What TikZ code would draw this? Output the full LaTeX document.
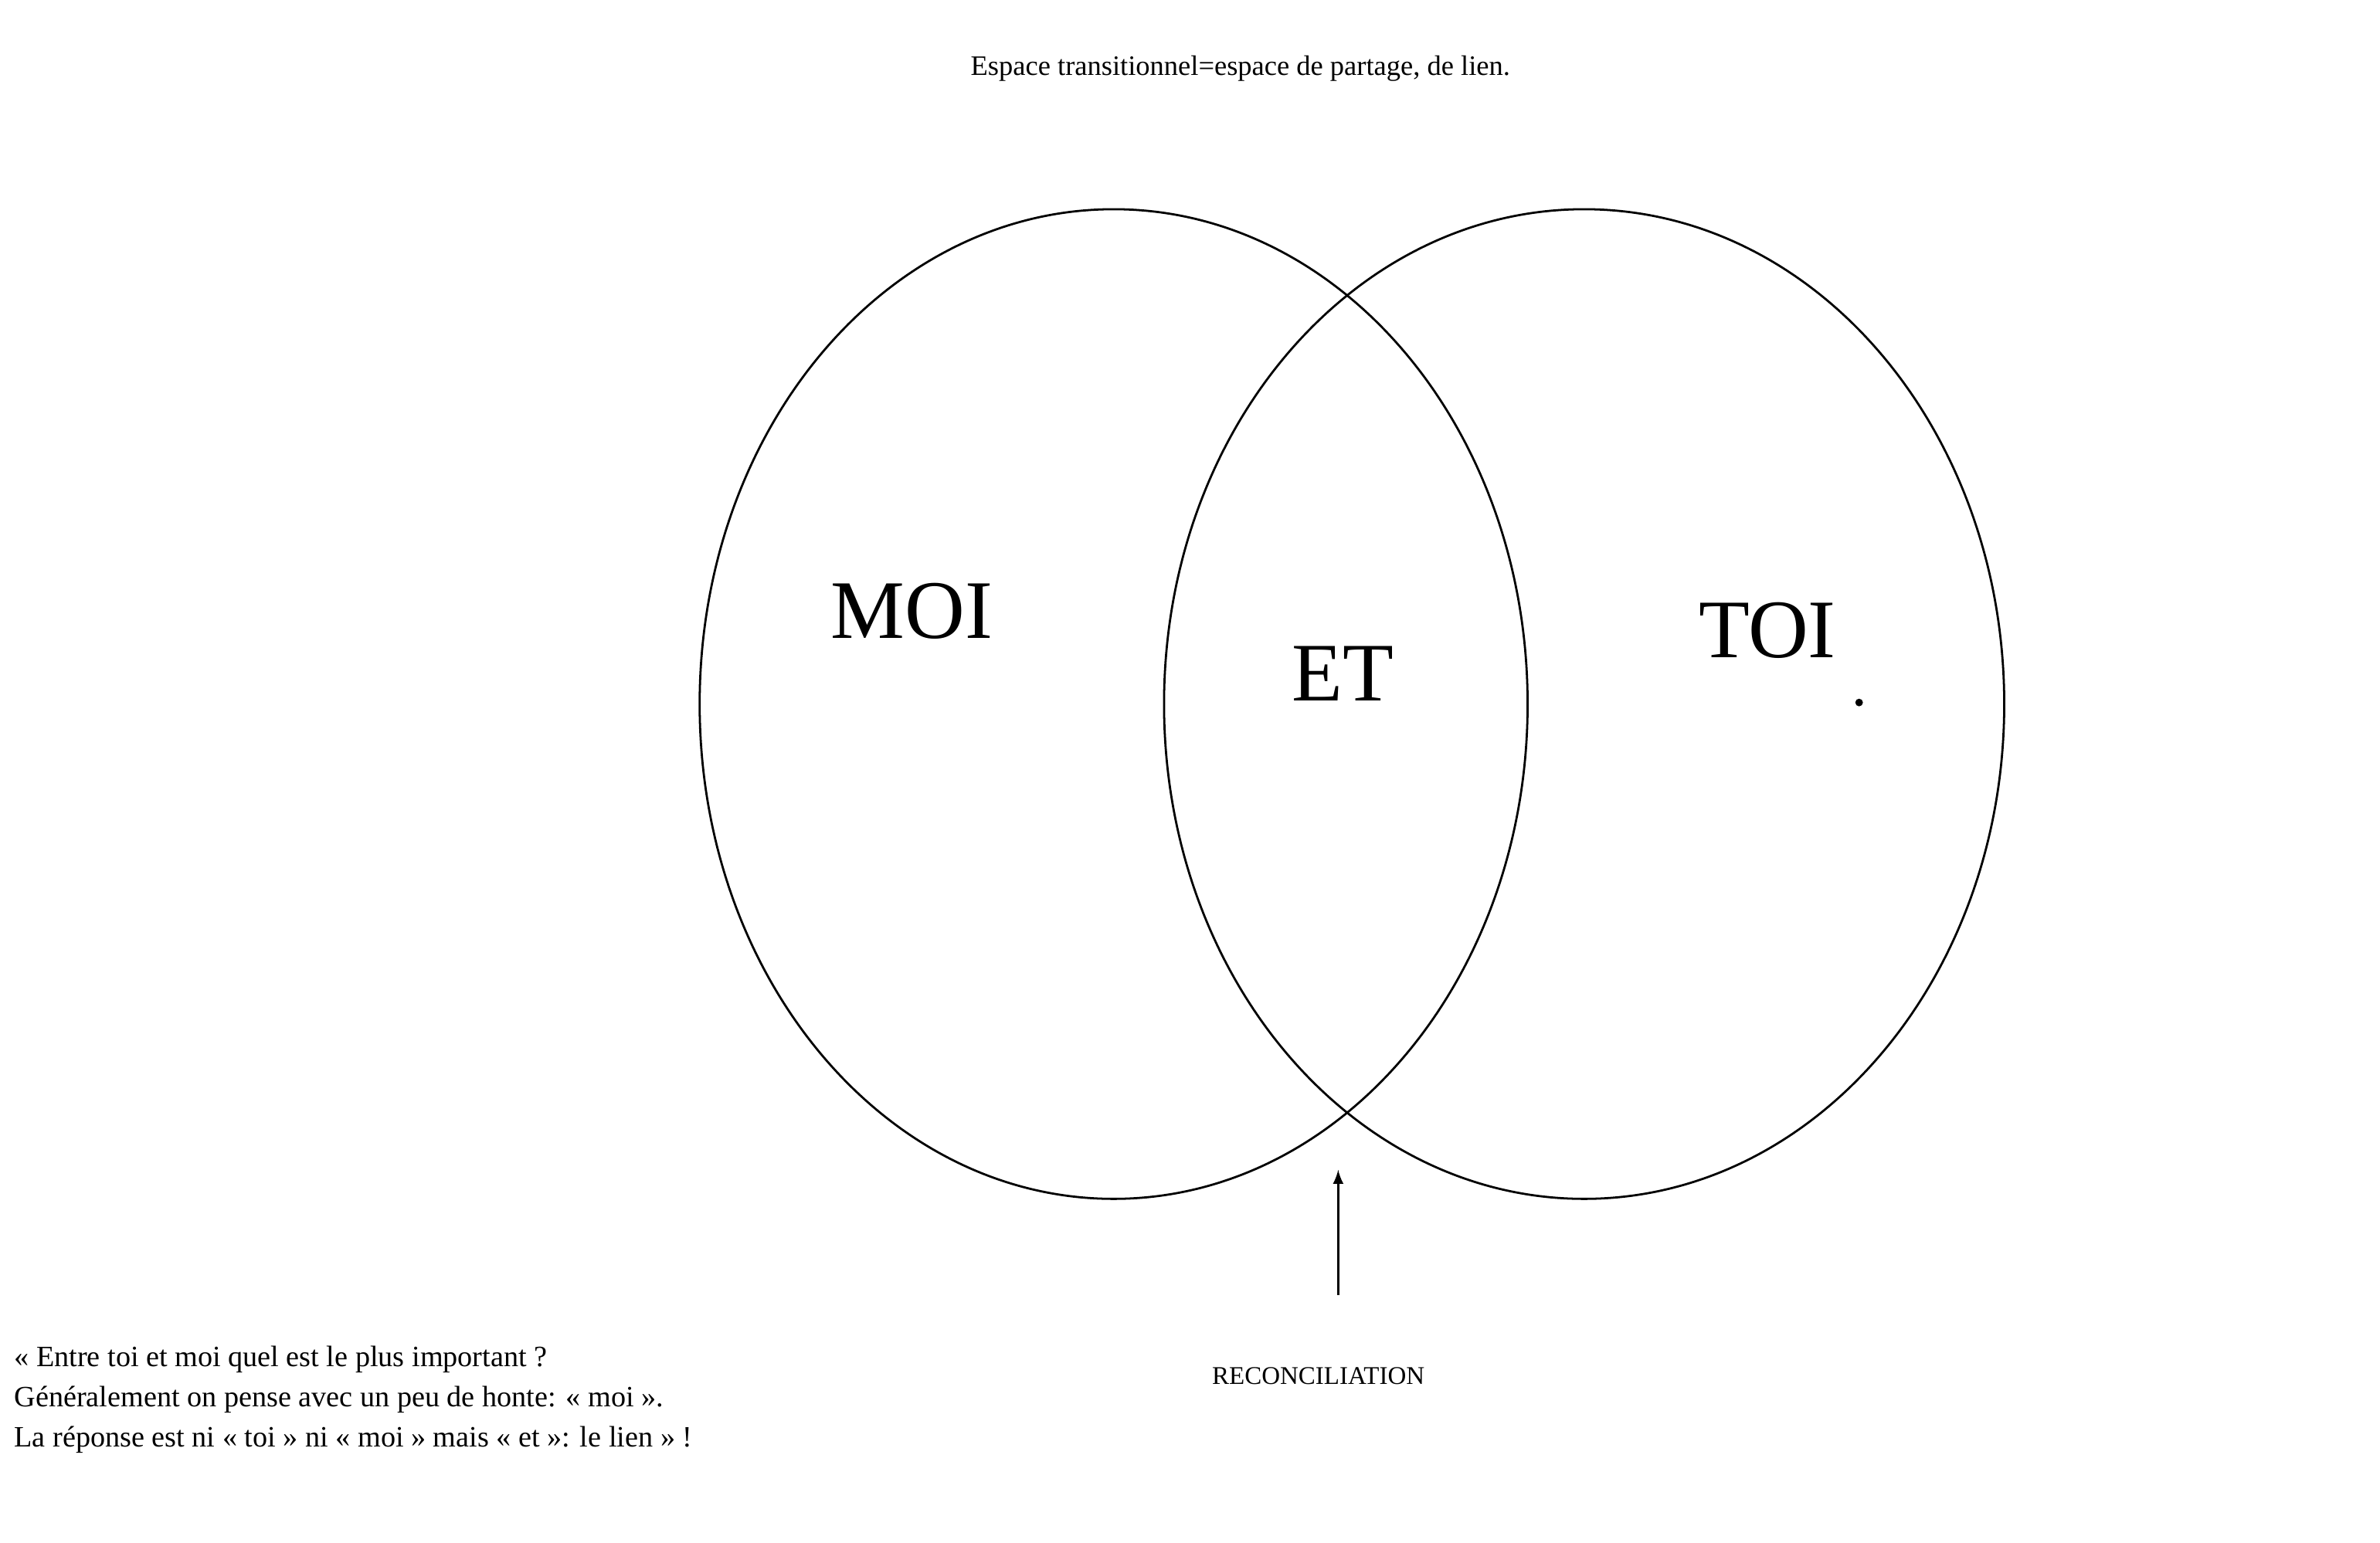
\documentclass[tikz,border=0pt]{standalone}
\usepackage{fontspec}
\setmainfont{Liberation Serif}
\begin{document}
\begin{tikzpicture}[x=0.02cm,y=-0.02cm,
  big/.style={font=\fontsize{31}{36}\selectfont},
  txt/.style={font=\fontsize{11}{15}\selectfont}]
\useasboundingbox[fill=white] (0,0) rectangle (1558,1010);
\node[font=\fontsize{10.5}{13}\selectfont] (title) at (812,45) {Espace transitionnel=espace de partage, de lien.};
\draw[line width=0.8pt] (729,461) ellipse [x radius=271, y radius=324];
\draw[line width=0.8pt] (1037,461) ellipse [x radius=275, y radius=324];
\node[big] (moi) at (597,400) {MOI};
\node[big] (et) at (879,441) {ET};
\node[big] (toi) at (1157,413) {TOI};
\fill (1217,460) circle (2.5);
\node[font=\fontsize{9.5}{12}\selectfont] (rec) at (863,901) {RECONCILIATION};
\coordinate (a1) at (876,848);
\coordinate (a2) at (876,766);
\draw[-latex,line width=0.8pt] (a1) -- (a2);
\node[txt,anchor=north west,align=left,inner sep=0] (q) at (9,881)
{« Entre toi et moi quel est le plus important ?\\
Généralement on pense avec un peu de honte: « moi ».\\
La réponse est ni « toi » ni « moi » mais « et »: le lien » !};
\end{tikzpicture}
\end{document}
